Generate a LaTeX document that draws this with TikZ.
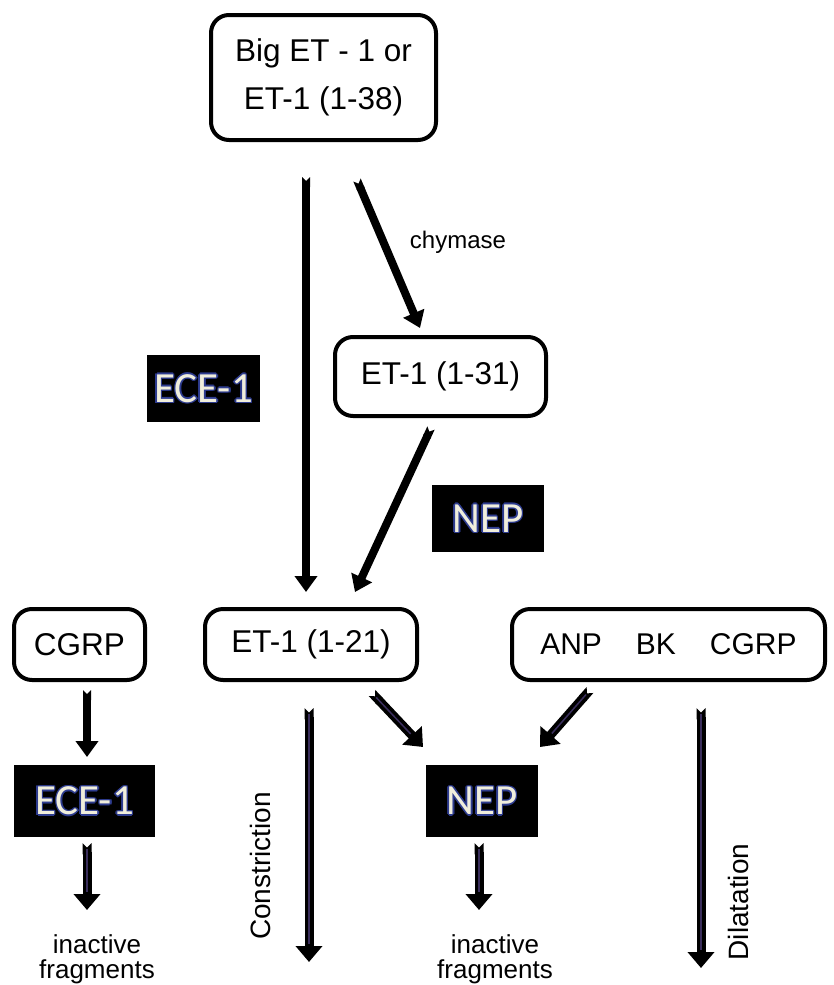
\documentclass[tikz,border=0pt]{standalone}
\usepackage{fontspec}
\setmainfont{Liberation Sans}
\newfontfamily\calib{Carlito}
\usetikzlibrary{arrows.meta}
\definecolor{olblue}{HTML}{2E3C8F}
\definecolor{olcream}{HTML}{F0EEDC}
\definecolor{innerc}{HTML}{3A2E5C}
\newcommand\olone[3]{\rlap{\hspace{#1}\raisebox{#2}{\color{olblue}#3}}}
\newcommand\oltxt[1]{\olone{-1.6pt}{0pt}{#1}\olone{1.6pt}{0pt}{#1}\olone{0pt}{1.6pt}{#1}\olone{0pt}{-1.6pt}{#1}\olone{-1.1pt}{-1.1pt}{#1}\olone{1.1pt}{1.1pt}{#1}\olone{-1.1pt}{1.1pt}{#1}\olone{1.1pt}{-1.1pt}{#1}{\color{olcream}#1}}
\tikzset{
  rbox/.style={draw, line width=4pt, rounded corners=18pt, inner sep=0pt, align=center,
    font=\fontsize{31.5}{48}\selectfont},
  blk/.style={fill=black, inner sep=0pt, font=\calib\fontsize{43}{43}\selectfont},
  lbl/.style={inner sep=0pt, align=center, font=\fontsize{26}{25}\selectfont},
  arra/.style={line width=8pt, {Triangle Cap[reversed]}-{Triangle[width=22pt,length=16pt]}},
  arrb/.style={line width=9pt, {Triangle Cap[reversed]}-{Triangle[width=26pt,length=16pt]}},
  innerl/.style={draw=innerc, line width=1.5pt, shorten <=6pt, shorten >=18pt}
}
\begin{document}
\begin{tikzpicture}[x=1pt,y=-1pt]
\useasboundingbox (0,0) rectangle (833,985);
% boxes
\node[rbox, minimum width=225pt, minimum height=125pt] (big) at (323.5,77.5) {Big ET - 1 or\\ET-1 (1-38)};
\node[rbox, minimum width=211pt, minimum height=79pt] (e31) at (440.5,376.5) {ET-1 (1-31)};
\node[rbox, minimum width=212pt, minimum height=71pt] (e21) at (311,644.5) {ET-1 (1-21)};
\node[rbox, minimum width=131pt, minimum height=71pt] (cgrp) at (79.5,644.5) {CGRP};
\node[rbox, minimum width=313pt, minimum height=71pt, font=\fontsize{30}{30}\selectfont] (anp) at (668.5,644.5) {ANP\hspace{34pt}BK\hspace{34pt}CGRP};
% enzyme boxes
\node[blk, minimum width=113pt, minimum height=67pt] (eceA) at (203.5,388.5) {\oltxt{ECE-1}};
\node[blk, minimum width=112pt, minimum height=67pt] (nepA) at (488,518.5) {\oltxt{NEP}};
\node[blk, minimum width=141pt, minimum height=72pt] (eceB) at (84.5,801) {\oltxt{ECE-1}};
\node[blk, minimum width=112pt, minimum height=72pt] (nepB) at (482,801) {\oltxt{NEP}};
% labels
\node[lbl, font=\fontsize{24}{24}\selectfont] (chy) at (458,242) {chymase};
\node[lbl] (fragA) at (97,959) {inactive\\fragments};
\node[lbl] (fragB) at (495,959) {inactive\\fragments};
\node[lbl, font=\fontsize{28}{28}\selectfont, rotate=90] (con) at (260,866) {Constriction};
\node[lbl, font=\fontsize{28}{28}\selectfont, rotate=90] (dil) at (738,902) {Dilatation};
% arrow coordinates
\coordinate (a1s) at (306,177); \coordinate (a1e) at (306,592);
\coordinate (a2s) at (357,180); \coordinate (a2e) at (420,328);
\coordinate (a3s) at (431,428); \coordinate (a3e) at (355,592);
\coordinate (a4s) at (87,690);  \coordinate (a4e) at (87,757);
\coordinate (a5s) at (87,843);  \coordinate (a5e) at (87,910);
\coordinate (a6s) at (372,693); \coordinate (a6e) at (423,747);
\coordinate (a7s) at (590,690); \coordinate (a7e) at (540,747);
\coordinate (a8s) at (309,708); \coordinate (a8e) at (309,962);
\coordinate (a9s) at (479,843); \coordinate (a9e) at (479,910);
\coordinate (a10s) at (701,708); \coordinate (a10e) at (701,968);
% upper arrows
\draw[arra] (a1s) -- (a1e);
\draw[arra] (a2s) -- (a2e);
\draw[arra] (a3s) -- (a3e);
\draw[arra] (a4s) -- (a4e);
% lower arrows
\foreach \i in {5,...,10}{
  \draw[arrb] (a\i s) -- (a\i e);
  \draw[innerl] (a\i s) -- (a\i e);
}
\end{tikzpicture}
\end{document}
